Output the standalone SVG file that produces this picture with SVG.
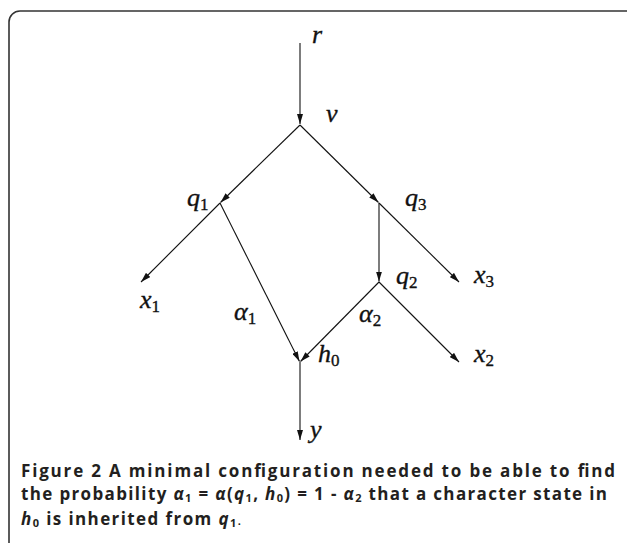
<svg xmlns="http://www.w3.org/2000/svg" width="627" height="543" viewBox="0 0 627 543">
<style>
.m{font-family:"Liberation Serif","DejaVu Serif",serif;font-style:italic;font-size:26px;fill:#111;stroke:#111;stroke-width:0.35}
.s{font-family:"Liberation Serif","DejaVu Serif",serif;font-style:normal;font-size:17px}
.e{stroke:#111;stroke-width:1.1;fill:none;marker-end:url(#ah)}
.cap{font-family:"Open Sans","Noto Sans",sans-serif;font-weight:bold;font-size:17px;fill:#231f20}
.ci{font-style:italic}
.cs{font-size:11px}
</style>
<defs>
<marker id="ah" viewBox="0 0 10 6" refX="10" refY="3" markerWidth="10" markerHeight="6" markerUnits="userSpaceOnUse" orient="auto">
<path d="M0,0 L10,3 L0,6 Z" fill="#111"/>
</marker>
</defs>
<rect x="9" y="11" width="628" height="545" rx="11" ry="11" fill="#fff" stroke="#333" stroke-width="1.6"/>
<g id="connectors">
<line class="e" x1="300" y1="43" x2="300" y2="124"/>
<line class="e" x1="300" y1="125" x2="220.5" y2="202.5"/>
<line class="e" x1="300" y1="125" x2="378.5" y2="202.5"/>
<line class="e" x1="220" y1="203" x2="141" y2="282"/>
<line class="e" x1="220" y1="203" x2="299.5" y2="361.5"/>
<line class="e" x1="379" y1="203" x2="379" y2="281.5"/>
<line class="e" x1="379" y1="203" x2="459" y2="282"/>
<line class="e" x1="379" y1="282" x2="300.5" y2="361.5"/>
<line class="e" x1="379" y1="282" x2="459" y2="362"/>
<line class="e" x1="300" y1="362" x2="300" y2="440"/>
</g>
<g id="r"><text class="m" x="312" y="43">r</text></g>
<g id="v"><text class="m" x="326" y="122">v</text></g>
<g id="q1"><text class="m" x="187" y="206">q<tspan class="s" dy="4">1</tspan></text></g>
<g id="q3"><text class="m" x="405" y="206">q<tspan class="s" dy="4">3</tspan></text></g>
<g id="x1"><text class="m" x="140" y="308">x<tspan class="s" dy="4">1</tspan></text></g>
<g id="q2"><text class="m" x="396" y="284">q<tspan class="s" dy="4">2</tspan></text></g>
<g id="x3"><text class="m" x="474" y="283">x<tspan class="s" dy="4">3</tspan></text></g>
<g id="alpha1"><text class="m" x="234" y="320">α<tspan class="s" dy="4">1</tspan></text></g>
<g id="alpha2"><text class="m" x="359" y="322">α<tspan class="s" dy="4">2</tspan></text></g>
<g id="h0"><text class="m" x="318" y="362">h<tspan class="s" dy="4">0</tspan></text></g>
<g id="x2"><text class="m" x="474" y="362">x<tspan class="s" dy="4">2</tspan></text></g>
<g id="y"><text class="m" x="310" y="438">y</text></g>
<g id="caption">
<text class="cap" x="21" y="477" textLength="594" lengthAdjust="spacing">Figure 2 A minimal configuration needed to be able to find</text>
<text class="cap" x="21" y="500" textLength="586" lengthAdjust="spacing">the probability <tspan class="ci">α</tspan><tspan class="cs" dy="2">1</tspan><tspan dy="-2"> = </tspan><tspan class="ci">α</tspan>(<tspan class="ci">q</tspan><tspan class="cs" dy="2">1</tspan><tspan dy="-2">, </tspan><tspan class="ci">h</tspan><tspan class="cs" dy="2">0</tspan><tspan dy="-2">) = 1 - </tspan><tspan class="ci">α</tspan><tspan class="cs" dy="2">2</tspan><tspan dy="-2"> that a character state in</tspan></text>
<text class="cap" x="21" y="525" letter-spacing="1.4"><tspan class="ci">h</tspan><tspan class="cs" dy="2">0</tspan><tspan dy="-2"> is inherited from </tspan><tspan class="ci">q</tspan><tspan class="cs" dy="2">1</tspan><tspan dy="-2" class="cs">.</tspan></text>
</g>
</svg>
